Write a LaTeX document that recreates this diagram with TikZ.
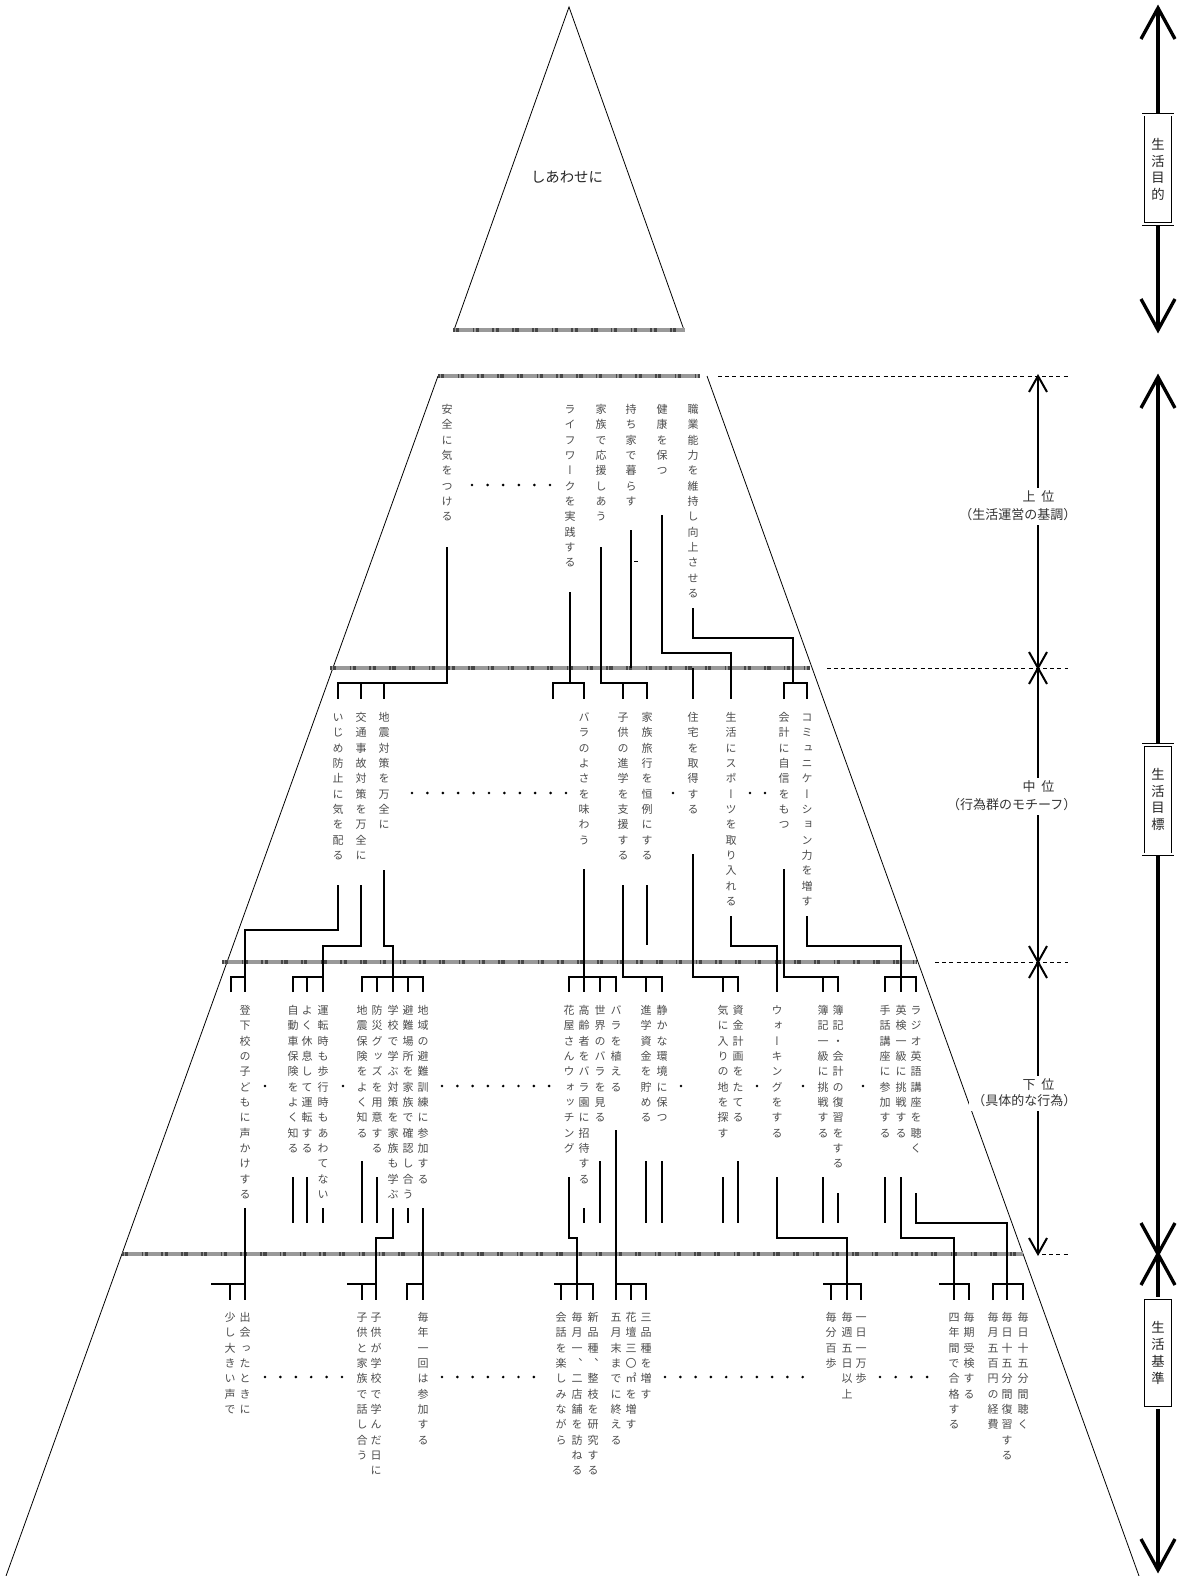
\documentclass[tikz,border=0pt]{standalone}
\usepackage{fontspec}
\newfontfamily\jpfont{Noto Sans CJK JP}
\newfontfamily\vtfont[RawFeature={+vert}]{Noto Sans CJK JP}
\definecolor{txt}{gray}{0.3}
\makeatletter
\newdimen\vtpitch
\vtpitch=11.5pt
\def\V@end{\V@end}
\newcommand\V[1]{\vbox{\baselineskip=\vtpitch\lineskiplimit=-100pt\lineskip=0pt\V@loop#1\V@end}}
\def\V@loop#1{\ifx#1\V@end\else\hbox to 1em{\hss\vrule height .88em depth .12em width 0pt\relax#1\hss}\expandafter\V@loop\fi}
\makeatother
\begin{document}
\begin{tikzpicture}[x=0.75pt,y=-0.75pt,
  vt/.style={anchor=north,inner sep=0pt,text=txt,font=\vtfont\fontsize{8.25pt}{11.5pt}\selectfont},
  conn/.style={line width=1pt},
  slant/.style={line width=0.6pt},
  guide/.style={line width=0.6pt,dash pattern=on 3pt off 2.4pt},
  bandbase/.style={line width=3pt,draw=black!40},
  bandpat/.style={line width=3pt,draw=black!72,dash pattern=on 1.2pt off 1.2pt on 2.4pt off 10pt},
  incol/.style={line width=1.5pt},
  rcol/.style={line width=2.5pt},
  lvl/.style={inner sep=2.5pt,fill=white,text=black!80,font=\jpfont\fontsize{9.75pt}{11pt}\selectfont},
  sbox/.style={draw=black,line width=0.45pt,double=white,double distance=1.6pt,fill=white,minimum width=22pt,minimum height=82pt,inner sep=0pt,text=black!85,font=\vtfont\fontsize{10pt}{12.6pt}\selectfont},
]
\useasboundingbox (0,0) rectangle (1179,1576);

% ---------- top triangle ----------
\draw[slant] (454,330) -- (569,7) -- (684,330);
\node[text=black!85,font=\jpfont\fontsize{10.8pt}{12pt}\selectfont] (goal) at (567,177) {しあわせに};

% ---------- trapezoid ----------
\draw[slant] (438,376) -- (6,1576);
\draw[slant] (707,376) -- (1139,1576);

% ---------- bands ----------
\foreach \xa/\xb/\yy in {453/685/330, 438/700/376, 330/810/668, 222/917/962, 122/1023/1254}{
  \draw[bandbase] (\xa,\yy) -- (\xb,\yy);
  \draw[bandpat] (\xa,\yy) -- (\xb,\yy);
}

% ---------- dashed guides ----------
\draw[guide] (718,376) -- (1068,376);
\draw[guide] (827,668) -- (1068,668);
\draw[guide] (935,962) -- (1068,962);
\draw[guide] (1042,1254) -- (1068,1254);

% ---------- level 1 ----------
\node[vt] (a1) at (447,403.5) {\V{安全に気をつける}};
\node[vt] (a2) at (570,403.5) {\V{ライフワークを実践する}};
\node[vt] (a3) at (601,403.5) {\V{家族で応援しあう}};
\node[vt] (a4) at (631,403.5) {\V{持ち家で暮らす}};
\node[vt] (a5) at (662,403.5) {\V{健康を保つ}};
\node[vt] (a6) at (693,403.5) {\V{職業能力を維持し向上させる}};

% ---------- level 2 ----------
\node[vt] (b1) at (338,711.5) {\V{いじめ防止に気を配る}};
\node[vt] (b2) at (361,711.5) {\V{交通事故対策を万全に}};
\node[vt] (b3) at (384,711.5) {\V{地震対策を万全に}};
\node[vt] (b4) at (584,711.5) {\V{バラのよさを味わう}};
\node[vt] (b5) at (623,711.5) {\V{子供の進学を支援する}};
\node[vt] (b6) at (647,711.5) {\V{家族旅行を恒例にする}};
\node[vt] (b7) at (693,711.5) {\V{住宅を取得する}};
\node[vt] (b8) at (731,711.5) {\V{生活にスポーツを取り入れる}};
\node[vt] (b9) at (784,711.5) {\V{会計に自信をもつ}};
\node[vt] (b10) at (807,711.5) {\V{コミュニケーション力を増す}};

% ---------- level 3 ----------
\node[vt] (c1) at (245,1004.5) {\V{登下校の子どもに声かけする}};
\node[vt] (c2) at (293,1004.5) {\V{自動車保険をよく知る}};
\node[vt] (c3) at (307,1004.5) {\V{よく休息して運転する}};
\node[vt] (c4) at (323,1004.5) {\V{運転時も歩行時もあわてない}};
\node[vt] (c5) at (362,1004.5) {\V{地震保険をよく知る}};
\node[vt] (c6) at (377,1004.5) {\V{防災グッズを用意する}};
\node[vt] (c7) at (393,1004.5) {\V{学校で学ぶ対策を家族も学ぶ}};
\node[vt] (c8) at (408,1004.5) {\V{避難場所を家族で確認し合う}};
\node[vt] (c9) at (423,1004.5) {\V{地域の避難訓練に参加する}};
\node[vt] (c10) at (569,1004.5) {\V{花屋さんウォッチング}};
\node[vt] (c11) at (584,1004.5) {\V{高齢者をバラ園に招待する}};
\node[vt] (c12) at (600,1004.5) {\V{世界のバラを見る}};
\node[vt] (c13) at (616,1004.5) {\V{バラを植える}};
\node[vt] (c14) at (646,1004.5) {\V{進学資金を貯める}};
\node[vt] (c15) at (662,1004.5) {\V{静かな環境に保つ}};
\node[vt] (c16) at (723,1004.5) {\V{気に入りの地を探す}};
\node[vt] (c17) at (738,1004.5) {\V{資金計画をたてる}};
\node[vt] (c18) at (777,1004.5) {\V{ウォーキングをする}};
\node[vt] (c19) at (823,1004.5) {\V{簿記一級に挑戦する}};
\node[vt] (c20) at (838,1004.5) {\V{簿記・会計の復習をする}};
\node[vt] (c21) at (885,1004.5) {\V{手話講座に参加する}};
\node[vt] (c22) at (901,1004.5) {\V{英検一級に挑戦する}};
\node[vt] (c23) at (916,1004.5) {\V{ラジオ英語講座を聴く}};

% ---------- level 4 ----------
\node[vt] (d1) at (230,1311.5) {\V{少し大きい声で}};
\node[vt] (d2) at (245,1311.5) {\V{出会ったときに}};
\node[vt] (d3) at (362,1311.5) {\V{子供と家族で話し合う}};
\node[vt] (d4) at (376,1311.5) {\V{子供が学校で学んだ日に}};
\node[vt] (d5) at (423,1311.5) {\V{毎年一回は参加する}};
\node[vt] (d6) at (561,1311.5) {\V{会話を楽しみながら}};
\node[vt] (d7) at (577,1311.5) {\V{毎月一、二店舗を訪ねる}};
\node[vt] (d8) at (593,1311.5) {\V{新品種、整枝を研究する}};
\node[vt] (d9) at (616,1311.5) {\V{五月末までに終える}};
\node[vt] (d10) at (631,1311.5) {\V{花壇三〇㎡を増す}};
\node[vt] (d11) at (646,1311.5) {\V{三品種を増す}};
\node[vt] (d12) at (831,1311.5) {\V{毎分百歩}};
\node[vt] (d13) at (847,1311.5) {\V{毎週五日以上}};
\node[vt] (d14) at (861,1311.5) {\V{一日一万歩}};
\node[vt] (d15) at (954,1311.5) {\V{四年間で合格する}};
\node[vt] (d16) at (969,1311.5) {\V{毎期受検する}};
\node[vt] (d17) at (993,1311.5) {\V{毎月五百円の経費}};
\node[vt] (d18) at (1007,1311.5) {\V{毎日十五分間復習する}};
\node[vt] (d19) at (1023,1311.5) {\V{毎日十五分間聴く}};

% ---------- free ends (elided branches) ----------
\coordinate (e1) at (553,699);
\coordinate (j6) at (793,683);
\coordinate (e2) at (231,992);
\coordinate (e3) at (211,1284);
\coordinate (e4) at (347,1284);
\coordinate (e5) at (407,1300);
\coordinate (e6) at (554,1284);
\coordinate (e7) at (823,1284);
\coordinate (e8) at (939,1284);

% ---------- connectors level 1 -> 2 ----------
\draw[conn] (a1 |- 0,547) -- (a1 |- 0,683) -- (b1 |- 0,683) -- (b1 |- 0,699);
\draw[conn] (b2 |- 0,683) -- (b2 |- 0,699);
\draw[conn] (b3 |- 0,683) -- (b3 |- 0,699);
\draw[conn] (a2 |- 0,592) -- (a2 |- 0,683);
\draw[conn] (e1) -- (e1 |- 0,683) -- (b4 |- 0,683) -- (b4 |- 0,699);
\draw[conn] (a3 |- 0,547) -- (a3 |- 0,683) -- (b6 |- 0,683) -- (b6 |- 0,699);
\draw[conn] (b5 |- 0,683) -- (b5 |- 0,699);
\draw[conn] (a4 |- 0,530) -- (a4 |- 0,668);
\draw[line width=0.5pt] (634,561) -- (638,561);
\draw[conn] (a5 |- 0,515) -- (a5 |- 0,653) -- (b8 |- 0,653) -- (b8 |- 0,699);
\draw[conn] (a6 |- 0,608) -- (a6 |- 0,638) -- (j6 |- 0,638) -- (j6);
\draw[conn] (b9 |- 0,699) -- (b9 |- 0,683) -- (b10 |- 0,683) -- (b10 |- 0,699);
\draw[conn] (b7 |- 0,668) -- (b7 |- 0,699);

% ---------- connectors level 2 -> 3 ----------
\draw[conn] (b1 |- 0,885) -- (b1 |- 0,930) -- (c1 |- 0,930) -- (c1 |- 0,992);
\draw[conn] (e2) -- (e2 |- 0,977) -- (c1 |- 0,977);
\draw[conn] (b2 |- 0,885) -- (b2 |- 0,946) -- (c4 |- 0,946) -- (c4 |- 0,992);
\draw[conn] (c2 |- 0,992) -- (c2 |- 0,977) -- (c4 |- 0,977);
\draw[conn] (c3 |- 0,977) -- (c3 |- 0,992);
\draw[conn] (b3 |- 0,870) -- (b3 |- 0,946) -- (c7 |- 0,946) -- (c7 |- 0,992);
\draw[conn] (c5 |- 0,992) -- (c5 |- 0,977) -- (c9 |- 0,977) -- (c9 |- 0,992);
\draw[conn] (c6 |- 0,977) -- (c6 |- 0,992);
\draw[conn] (c8 |- 0,977) -- (c8 |- 0,992);
\draw[conn] (b4 |- 0,869) -- (b4 |- 0,992);
\draw[conn] (c10 |- 0,992) -- (c10 |- 0,977) -- (c13 |- 0,977) -- (c13 |- 0,992);
\draw[conn] (c12 |- 0,977) -- (c12 |- 0,992);
\draw[conn] (b5 |- 0,885) -- (b5 |- 0,977) -- (c15 |- 0,977) -- (c15 |- 0,992);
\draw[conn] (c14 |- 0,977) -- (c14 |- 0,992);
\draw[conn] (b6 |- 0,885) -- (b6 |- 0,945);
\draw[conn] (b7 |- 0,854) -- (b7 |- 0,977) -- (c17 |- 0,977) -- (c17 |- 0,992);
\draw[conn] (c16 |- 0,977) -- (c16 |- 0,992);
\draw[conn] (b8 |- 0,916) -- (b8 |- 0,946) -- (c18 |- 0,946) -- (c18 |- 0,992);
\draw[conn] (b9 |- 0,869) -- (b9 |- 0,977) -- (c20 |- 0,977) -- (c20 |- 0,992);
\draw[conn] (c19 |- 0,977) -- (c19 |- 0,992);
\draw[conn] (b10 |- 0,916) -- (b10 |- 0,946) -- (c22 |- 0,946) -- (c22 |- 0,992);
\draw[conn] (c21 |- 0,992) -- (c21 |- 0,977) -- (c23 |- 0,977) -- (c23 |- 0,992);

% ---------- connectors level 3 -> 4 ----------
\draw[conn] (c1 |- 0,1208) -- (c1 |- 0,1300);
\draw[conn] (e3) -- (c1 |- 0,1284);
\draw[conn] (d1 |- 0,1284) -- (d1 |- 0,1300);
\foreach \n/\ya in {c2/1177,c3/1177,c4/1208,c5/1161,c6/1177,c8/1208,c11/1208,c12/1161,c14/1161,c15/1161,c16/1177,c17/1161,c19/1177,c20/1193,c21/1177}
  \draw[conn] (\n |- 0,\ya) -- (\n |- 0,1223);
\draw[conn] (c7 |- 0,1208) -- (c7 |- 0,1238) -- (d4 |- 0,1238) -- (d4 |- 0,1300);
\draw[conn] (e4) -- (d4 |- 0,1284);
\draw[conn] (d3 |- 0,1284) -- (d3 |- 0,1300);
\draw[conn] (c9 |- 0,1208) -- (c9 |- 0,1300);
\draw[conn] (e5) -- (e5 |- 0,1284) -- (c9 |- 0,1284);
\draw[conn] (c10 |- 0,1177) -- (c10 |- 0,1238) -- (d7 |- 0,1238) -- (d7 |- 0,1300);
\draw[conn] (e6) -- (d8 |- 0,1284) -- (d8 |- 0,1300);
\draw[conn] (d6 |- 0,1284) -- (d6 |- 0,1300);
\draw[conn] (c13 |- 0,1130) -- (c13 |- 0,1300);
\draw[conn] (c13 |- 0,1284) -- (d11 |- 0,1284) -- (d11 |- 0,1300);
\draw[conn] (d10 |- 0,1284) -- (d10 |- 0,1300);
\draw[conn] (c18 |- 0,1177) -- (c18 |- 0,1238) -- (d13 |- 0,1238) -- (d13 |- 0,1300);
\draw[conn] (e7) -- (d14 |- 0,1284) -- (d14 |- 0,1300);
\draw[conn] (d12 |- 0,1284) -- (d12 |- 0,1300);
\draw[conn] (c22 |- 0,1177) -- (c22 |- 0,1238) -- (d15 |- 0,1238) -- (d15 |- 0,1300);
\draw[conn] (e8) -- (d16 |- 0,1284) -- (d16 |- 0,1300);
\draw[conn] (c23 |- 0,1193) -- (c23 |- 0,1223) -- (d18 |- 0,1223) -- (d18 |- 0,1300);
\draw[conn] (d17 |- 0,1300) -- (d17 |- 0,1284) -- (d19 |- 0,1284) -- (d19 |- 0,1300);

% ---------- dots ----------
\foreach \i in {0,...,5} \fill ({472+\i*15.6},485) circle[radius=1.1pt];
\foreach \i in {0,...,10} \fill ({412+\i*15.4},793) circle[radius=1.1pt];
\foreach \xx in {673,750,765} \fill (\xx,793) circle[radius=1.1pt];
\foreach \xx in {265,343,681,757,803,863} \fill (\xx,1086) circle[radius=1.1pt];
\foreach \i in {0,...,7} \fill ({442+\i*15.3},1086) circle[radius=1.1pt];
\foreach \i in {0,...,5} \fill ({265+\i*15.4},1377) circle[radius=1.1pt];
\foreach \i in {0,...,6} \fill ({442+\i*15.3},1377) circle[radius=1.1pt];
\foreach \i in {0,...,9} \fill ({665+\i*15.3},1377) circle[radius=1.1pt];
\foreach \i in {0,...,3} \fill ({880+\i*15.7},1377) circle[radius=1.1pt];

% ---------- inner level column ----------
\draw[incol] (1038,376) -- (1038,1254);
\draw[incol] (1029,392) -- (1038,376) -- (1047,392);
\foreach \yy in {668,962}{
  \draw[incol] (1029,\yy-16) -- (1038,\yy) -- (1047,\yy-16);
  \draw[incol] (1029,\yy+16) -- (1038,\yy) -- (1047,\yy+16);
}
\draw[incol] (1029,1238) -- (1038,1254) -- (1047,1238);
\node[lvl,anchor=east] (u1) at (1058,497) {上\hspace{0.45em}位};
\node[lvl,anchor=east] (u2) at (1080,515) {（生活運営の基調）};
\node[lvl,anchor=east] (m1) at (1058,787) {中\hspace{0.45em}位};
\node[lvl,anchor=east] (m2) at (1080,805) {（行為群のモチーフ）};
\node[lvl,anchor=east] (l1) at (1058,1085) {下\hspace{0.45em}位};
\node[lvl,anchor=east] (l2) at (1080,1101) {（具体的な行為）};

% ---------- right column ----------
\draw[rcol] (1158,8) -- (1158,330);
\draw[rcol] (1141,39) -- (1158,8) -- (1175,39);
\draw[rcol] (1141,299) -- (1158,330) -- (1175,299);
\draw[rcol] (1158,377) -- (1158,1570);
\draw[rcol] (1141,408) -- (1158,377) -- (1175,408);
\draw[rcol] (1141,1223) -- (1158,1254) -- (1175,1223);
\draw[rcol] (1141,1285) -- (1158,1254) -- (1175,1285);
\draw[rcol] (1141,1539) -- (1158,1570) -- (1175,1539);
\node[sbox] (s1) at (1158,169.5) {{\vtpitch=12.6pt\V{生活目的}}};
\node[sbox] (s2) at (1158,799.5) {{\vtpitch=12.6pt\V{生活目標}}};
\node[sbox] (s3) at (1158,1353) {{\vtpitch=12.6pt\V{生活基準}}};
\end{tikzpicture}
\end{document}
